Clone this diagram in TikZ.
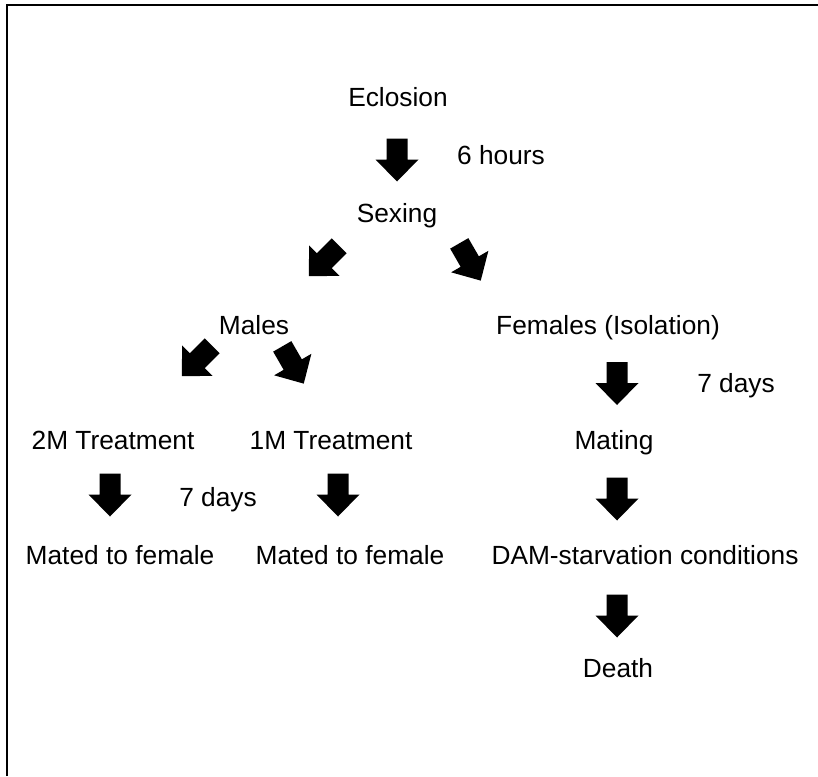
\documentclass[tikz,border=0pt]{standalone}
\usepackage{fontspec}
\setmainfont{Liberation Sans}
\begin{document}
\begin{tikzpicture}[x=1pt,y=-1pt,
  lbl/.style={anchor=base,inner sep=0pt,font=\fontsize{26.3}{30}\selectfont},
  barrow/.pic={\fill[black] (-10.5,-21.5) -- (10.5,-21.5) -- (10.5,-0.5) -- (21.5,-0.5) -- (0,21.5) -- (-21.5,-0.5) -- (-10.5,-0.5) -- cycle;}
]
\useasboundingbox (0,0) rectangle (818,776);
\draw[line width=2pt] (7,776) -- (7,5) -- (818,5);

\node[lbl] (ecl) at (398,106) {Eclosion};
\node[lbl] (h6) at (501,164) {6 hours};
\node[lbl] (sex) at (397,222) {Sexing};
\node[lbl] (mal) at (254,334) {Males};
\node[lbl] (fem) at (608,334) {Females (Isolation)};
\node[lbl] (d7r) at (736,392) {7 days};
\node[lbl] (t2m) at (113,449) {2M Treatment};
\node[lbl] (t1m) at (331,449) {1M Treatment};
\node[lbl] (mat) at (614,449) {Mating};
\node[lbl] (d7l) at (218,506) {7 days};
\node[lbl] (mf1) at (120,564) {Mated to female};
\node[lbl] (mf2) at (350,564) {Mated to female};
\node[lbl] (dam) at (645,564) {DAM-starvation conditions};
\node[lbl] (dth) at (618,677) {Death};

\pic at (397,160) {barrow};
\pic[rotate=-45] at (324,261) {barrow};
\pic[rotate=30] at (470,262) {barrow};
\pic[rotate=-45] at (197,361) {barrow};
\pic[rotate=30] at (293,365) {barrow};
\pic at (110,495) {barrow};
\pic at (338,495) {barrow};
\pic at (617,383.5) {barrow};
\pic at (617,499) {barrow};
\pic at (617,616) {barrow};
\end{tikzpicture}
\end{document}
